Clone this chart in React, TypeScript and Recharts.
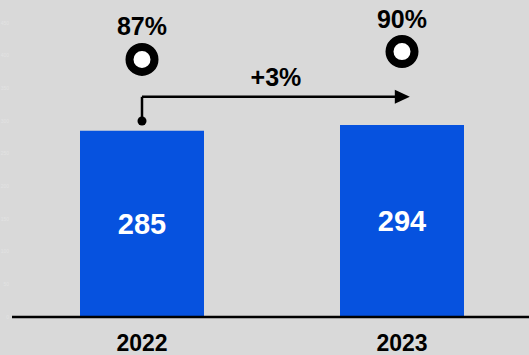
import {Bar, ComposedChart, LabelList, Line, ReferenceDot, ReferenceLine, XAxis, YAxis} from "recharts";

const years = ["2022", "2023"];
const counts = [285, 294];
const shares = [87, 90];
const countTicks = [0, 50, 100, 150, 200, 250, 300, 350, 400, 450];
const change = "+3%";

// arrow anchor heights, in count units
const arrowDotY = 300;
const arrowLineY = 337;

const data = years.map((year, i) => ({year, count: counts[i], share: shares[i]}));

const Arrow = (props: any) => {
  const {x1, y1, x2, y2} = props;
  // tip runs a little past the 2023 centre
  const tip = x2 + (x2 - x1) * 0.03;
  return (
    <g>
      <line x1={x1} y1={y1} x2={tip - 14} y2={y2} stroke="#000" strokeWidth={2.5}/>
      <polygon points={`${tip},${y2} ${tip - 15},${y2 - 7} ${tip - 15},${y2 + 7}`} fill="#000"/>
      <text x={(x1 + tip) / 2} y={y1 - 11} textAnchor="middle" fontSize={25} fontWeight="bold" fill="#000">
        {change}
      </text>
    </g>
  );
};

export default function App() {
  return (
    <div style={{position: "absolute", left: 0, top: 0, width: 529, height: 355, overflow: "hidden",
      background: "#d9d9d9", fontFamily: "'Liberation Sans', Arial, sans-serif"}}>
      <ComposedChart width={532} height={355} data={data} margin={{top: 23, right: 0, bottom: 0, left: 0}}>
        <XAxis dataKey="year" axisLine={{stroke: "#000", strokeWidth: 2.5}} tickLine={false} tickSize={0}
               tickMargin={18} height={38} interval={0}
               tick={{fill: "#000", fontSize: 23, fontWeight: "bold"}}/>
        <YAxis domain={[0, 450]} ticks={countTicks} width={12} axisLine={false} tickLine={false}
               tickSize={0} tickMargin={3} tick={{fill: "#e3e3e3", fontSize: 5}}/>
        <YAxis yAxisId="pct" domain={[-12, 101]} hide allowDataOverflow/>
        <Bar dataKey="count" fill="#0652df" barSize={124} isAnimationActive={false}>
          <LabelList dataKey="count" position="center" fill="#fff" fontSize={29} fontWeight="bold"/>
        </Bar>
        <Line yAxisId="pct" dataKey="share" stroke="none" isAnimationActive={false}
              dot={{r: 12.5, stroke: "#000", strokeWidth: 8, fill: "#fff"}} activeDot={false}>
          <LabelList dataKey="share" position="top" offset={24} formatter={(v: any) => `${v}%`}
                     fill="#000" fontSize={25} fontWeight="bold"/>
        </Line>
        <ReferenceLine segment={[{x: years[0], y: arrowDotY}, {x: years[0], y: arrowLineY}]}
                       stroke="#000" strokeWidth={2.5}/>
        <ReferenceLine segment={[{x: years[0], y: arrowLineY}, {x: years[1], y: arrowLineY}]}
                       shape={Arrow}/>
        <ReferenceDot x={years[0]} y={arrowDotY} r={4.5} fill="#000" stroke="none"/>
      </ComposedChart>
    </div>
  );
}
